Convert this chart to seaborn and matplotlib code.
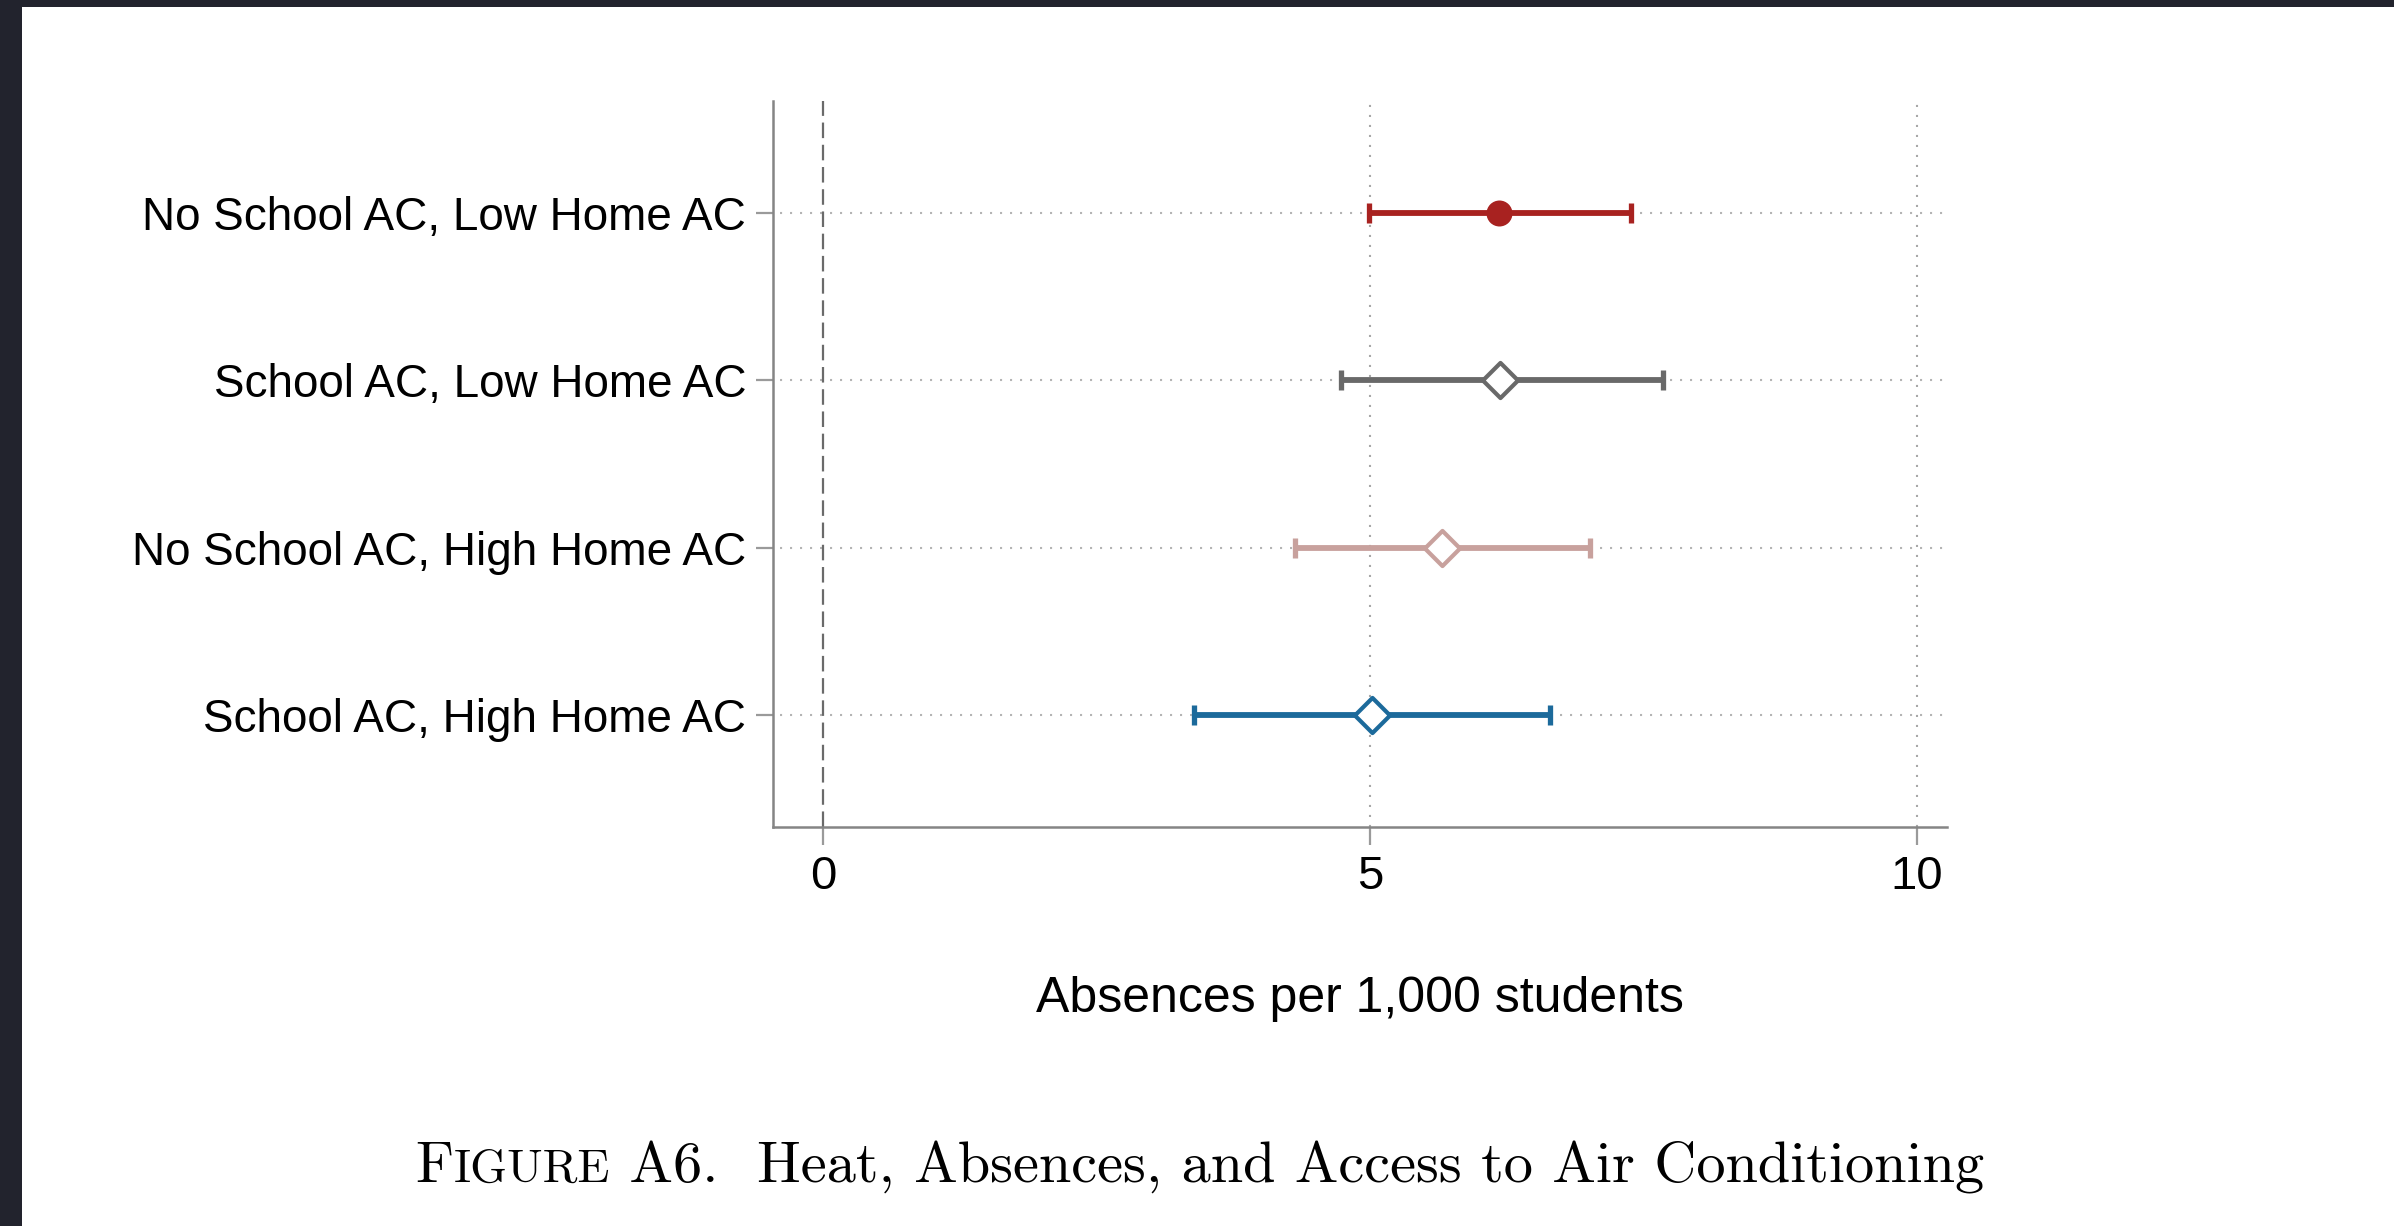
import matplotlib
matplotlib.use("Agg")
import matplotlib.pyplot as plt
import seaborn as sns
import pandas as pd
from matplotlib.patches import Rectangle

# ---------------- data ----------------
labels = ["No School AC, Low Home AC", "School AC, Low Home AC",
          "No School AC, High Home AC", "School AC, High Home AC"]
estimates = [6.18, 6.19, 5.66, 5.02]
ci_low = [4.99, 4.73, 4.31, 3.39]
ci_high = [7.38, 7.68, 7.01, 6.64]
colors = ["#A82220", "#696969", "#C8A19D", "#1C6A9B"]
markers = ["o", "D", "D", "D"]
filled = [True, False, False, False]
x_ticks = [0, 5, 10]
x_label = "Absences per 1,000 students"
caption_parts = ["F", "IGURE", " A6.  Heat, Absences, and Access to Air Conditioning"]

df = pd.DataFrame({"label": labels, "est": estimates, "lo": ci_low, "hi": ci_high})

W, H = 2394, 1226
DPI = 100
sns.set_theme(style="white")
plt.rcParams["font.family"] = ["Liberation Sans", "DejaVu Sans"]

fig = plt.figure(figsize=(W / DPI, H / DPI), dpi=DPI, facecolor="white")

# dark screenshot border (top and left)
fig.patches.append(Rectangle((0, 1 - 7 / H), 1, 7 / H, transform=fig.transFigure,
                             facecolor="#22232D", edgecolor="none", zorder=10))
fig.patches.append(Rectangle((0, 0), 22 / W, 1, transform=fig.transFigure,
                             facecolor="#22232D", edgecolor="none", zorder=10))

ax_l, ax_r = 772.7 / W, 1946.7 / W
ax_t, ax_b = 1 - 100.8 / H, 1 - 827.3 / H
ax = fig.add_axes([ax_l, ax_b, ax_r - ax_l, ax_t - ax_b])
ax.set_facecolor("white")

ypos = list(range(len(labels)))
ax.set_xlim(-0.463, 10.27)
ax.set_ylim(len(labels) - 1 + 0.67, -0.67)

# grid lines (dotted)
for xv in x_ticks[1:]:
    ax.axvline(xv, color="#a8a8a8", lw=1.5, ls=(0, (1, 3.8)), zorder=1)
for yv in ypos:
    ax.axhline(yv, xmin=0.006, color="#b4b4b4", lw=1.5, ls=(0, (1, 3.8)), zorder=1)
# zero reference
ax.axvline(0, color="#6a6a6a", lw=1.6, ls=(0, (7, 3)), zorder=2)

# confidence intervals
for i, row in df.iterrows():
    ax.errorbar(x=row["est"], y=ypos[i],
                xerr=[[row["est"] - row["lo"]], [row["hi"] - row["est"]]],
                fmt="none", ecolor=colors[i], elinewidth=4.2, capsize=7.5,
                capthick=3.8, zorder=3)

# point estimates
for i, row in df.iterrows():
    sub = pd.DataFrame({"est": [row["est"]], "y": [ypos[i]]})
    if filled[i]:
        sns.scatterplot(data=sub, x="est", y="y", ax=ax, marker=markers[i], s=350,
                        color=colors[i], edgecolor=colors[i], linewidth=0, zorder=4,
                        legend=False)
    else:
        sns.scatterplot(data=sub, x="est", y="y", ax=ax, marker=markers[i], s=320,
                        color=colors[i], facecolor="white", edgecolor=colors[i],
                        linewidth=3.0, zorder=4, legend=False)

ax.set_yticks(ypos)
ax.set_yticklabels(labels)
ax.set_xticks(x_ticks)
ax.set_xticklabels([str(t) for t in x_ticks])
ax.set_xlabel("")
ax.set_ylabel("")

for s in ["top", "right"]:
    ax.spines[s].set_visible(False)
for s in ["left", "bottom"]:
    ax.spines[s].set_color("#858585")
    ax.spines[s].set_linewidth(1.8)

ax.tick_params(axis="y", length=12, width=1.6, color="#9a9a9a", pad=7,
               labelsize=33, labelcolor="black", left=True)
ax.tick_params(axis="x", length=13, width=1.6, color="#9a9a9a", pad=7,
               labelsize=34, labelcolor="black", bottom=True)

fig.text((ax_l + ax_r) / 2, 1 - 999 / H, x_label, ha="center", va="center",
         fontsize=36, color="black")

# caption with small caps "FIGURE"
cap_sizes = [42, 34, 42]
fig.canvas.draw()
renderer = fig.canvas.get_renderer()
texts = []
for part, fs in zip(caption_parts, cap_sizes):
    t = fig.text(0, 1 - 1182 / H, part, ha="left", va="baseline", fontsize=fs,
                 family=["cmr10", "DejaVu Serif"], color="black")
    texts.append(t)
widths = [t.get_window_extent(renderer).width for t in texts]
total = sum(widths)
x0 = 1200 - total / 2
for t, w in zip(texts, widths):
    t.set_x(x0 / W)
    x0 += w

fig.savefig("out.png", dpi=DPI, facecolor="white")
